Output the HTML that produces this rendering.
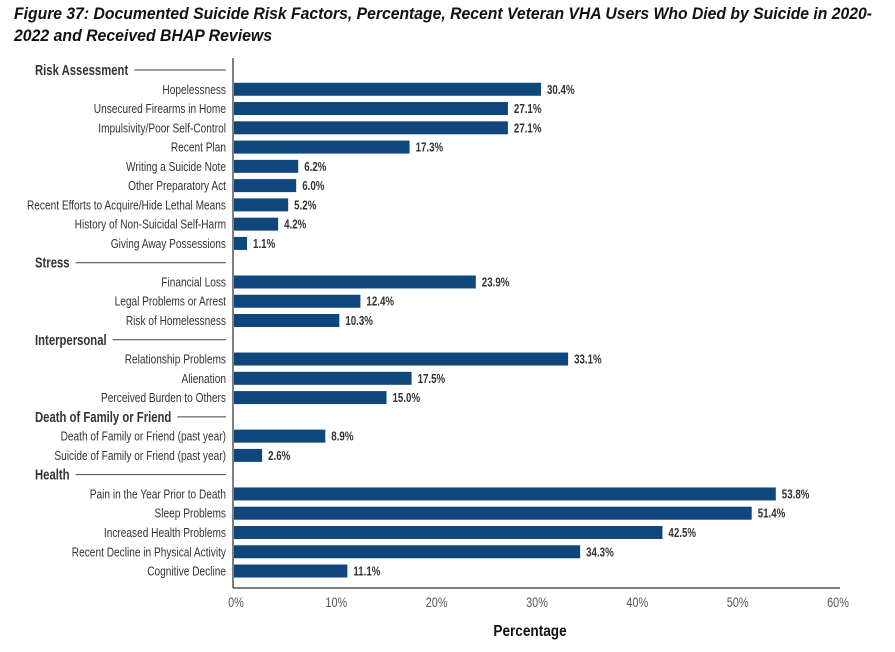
<!DOCTYPE html>
<html><head><meta charset="utf-8">
<style>
html,body{margin:0;padding:0;background:#fff;width:895px;height:652px;overflow:hidden;}
svg text{font-family:"Liberation Sans Narrow","Liberation Sans",sans-serif;}
</style></head>
<body>
<svg width="895" height="652" viewBox="0 0 895 652" id="chart">
<text x="14" y="19" font-size="17" font-weight="bold" font-style="italic" fill="#111" textLength="858" lengthAdjust="spacingAndGlyphs">Figure 37: Documented Suicide Risk Factors, Percentage, Recent Veteran VHA Users Who Died by Suicide in 2020-</text>
<text x="14" y="41" font-size="17" font-weight="bold" font-style="italic" fill="#111" textLength="258" lengthAdjust="spacingAndGlyphs">2022 and Received BHAP Reviews</text>
<g id="rows"></g>
<line x1="233" y1="58" x2="233" y2="588" stroke="#555" stroke-width="1.5"/>
<line x1="233" y1="588" x2="840" y2="588" stroke="#555" stroke-width="1.5"/>
<g id="ticks"></g>
<text transform="translate(530,636) scale(0.85,1)" x="0" y="0" font-size="16" font-weight="bold" text-anchor="middle" fill="#111">Percentage</text>
</svg>
<script>
const categories = ["Risk Assessment","Hopelessness","Unsecured Firearms in Home","Impulsivity/Poor Self-Control","Recent Plan","Writing a Suicide Note","Other Preparatory Act","Recent Efforts to Acquire/Hide Lethal Means","History of Non-Suicidal Self-Harm","Giving Away Possessions","Stress","Financial Loss","Legal Problems or Arrest","Risk of Homelessness","Interpersonal","Relationship Problems","Alienation","Perceived Burden to Others","Death of Family or Friend","Death of Family or Friend (past year)","Suicide of Family or Friend (past year)","Health","Pain in the Year Prior to Death","Sleep Problems","Increased Health Problems","Recent Decline in Physical Activity","Cognitive Decline"];
const values = [null,30.4,27.1,27.1,17.3,6.2,6.0,5.2,4.2,1.1,null,23.9,12.4,10.3,null,33.1,17.5,15.0,null,8.9,2.6,null,53.8,51.4,42.5,34.3,11.1];
const tickValues = [0,10,20,30,40,50,60];
const tickLabels = ["0%","10%","20%","30%","40%","50%","60%"];
const NS="http://www.w3.org/2000/svg";
const x0=236, x1=838, vmax=60;
const xs=v=>x0+(v/vmax)*(x1-x0);
const yTop=70, step=19.27;
const ys=i=>yTop+i*step;
const SX=0.78;
const rows=document.getElementById('rows');
function mk(tag,attrs,txt){const e=document.createElementNS(NS,tag);for(const k in attrs)e.setAttribute(k,attrs[k]);if(txt!==undefined)e.textContent=txt;return e;}
categories.forEach((c,i)=>{
  const y=ys(i);
  const v=values[i];
  if(v===null){
    const t=mk('text',{x:0,y:0,transform:`translate(35,${y+5}) scale(${SX},1)`,'font-size':14.5,'font-weight':'bold',fill:'#333'},c);
    
    
    rows.appendChild(t);
    const w=t.getComputedTextLength()*SX;
    const l=mk('line',{x1:35+w+6,y1:y,x2:226,y2:y,stroke:'#444','stroke-width':1});
    
    
    rows.appendChild(l);
  } else {
    const t=mk('text',{x:0,y:0,transform:`translate(226,${y+4.5}) scale(${SX},1)`,'font-size':13,'text-anchor':'end',fill:'#333'},c);
    
    
    rows.appendChild(t);
    const b=mk('rect',{x:x0-2,y:y-6.5,width:xs(v)-x0+2,height:13,fill:'#0f477c'});
    
    
    rows.appendChild(b);
    const vl=mk('text',{x:0,y:0,transform:`translate(${xs(v)+6},${y+4.5}) scale(${SX},1)`,'font-size':12.5,'font-weight':'bold',fill:'#333'},v.toFixed(1)+'%');
    
    
    rows.appendChild(vl);
  }
});
const ticks=document.getElementById('ticks');
tickValues.forEach((v,i)=>{
  const t=mk('text',{x:0,y:0,transform:`translate(${xs(v)},607) scale(${SX},1)`,'font-size':14,'text-anchor':'middle',fill:'#555'},tickLabels[i]);
  
  
  ticks.appendChild(t);
});
</script>
</body></html>
